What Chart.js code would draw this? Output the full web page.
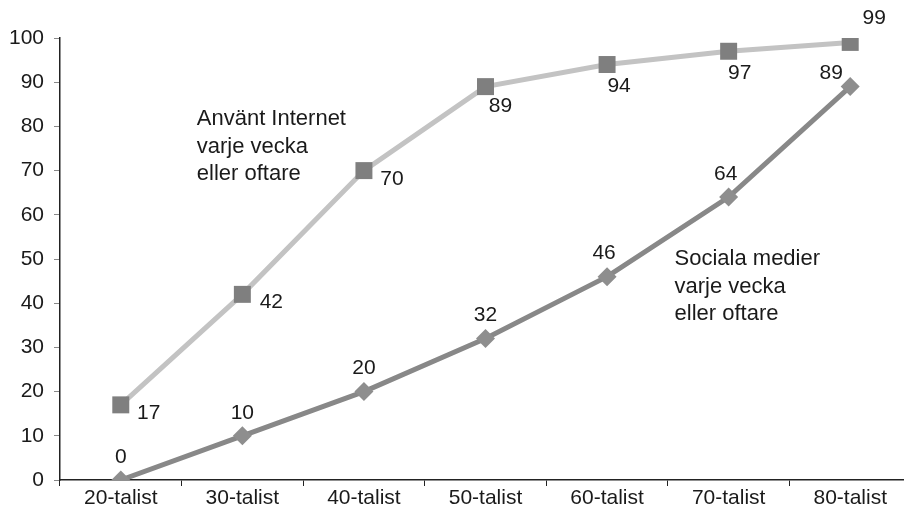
<!DOCTYPE html>
<html>
<head>
<meta charset="utf-8">
<script src="https://cdn.jsdelivr.net/npm/chart.js@4/dist/chart.umd.min.js"></script>
<style>
  html, body { margin: 0; padding: 0; background: #fff; overflow: hidden; }
  #wrap { width: 904px; height: 513px; overflow: hidden; position: relative; }
  canvas { display: block; }
</style>
</head>
<body>
<div id="wrap">
<canvas id="chart" width="914" height="513" style="width:914px;height:513px"></canvas>
</div>
<script>
const categories = ['20-talist', '30-talist', '40-talist', '50-talist', '60-talist', '70-talist', '80-talist'];
const internetValues = [17, 42, 70, 89, 94, 97, 99];
const socialValues = [0, 10, 20, 32, 46, 64, 89];
const yTicks = [0, 10, 20, 30, 40, 50, 60, 70, 80, 90, 100];

const internetNote = ['Använt Internet', 'varje vecka', 'eller oftare'];
const socialNote = ['Sociala medier', 'varje vecka', 'eller oftare'];

const FONT = '"Liberation Sans", Arial, Helvetica, sans-serif';
const TEXT = '#1a1a1a';

// label placement per point (pixel offsets from the marker)
const internetLabelOffsets = [[28, 8], [29, 8], [28, 9], [15, 20], [12, 22], [11, 22], [24, -24]];
const socialLabelOffsets = [[0, -23], [0, -23], [0, -23], [0, -23], [-3, -23], [-3, -23], [-19, -13]];

const labelsPlugin = {
  id: 'pointLabels',
  afterDatasetsDraw(chart) {
    const ctx = chart.ctx;
    const x = chart.scales.x;
    const y = chart.scales.y;
    ctx.save();
    ctx.font = '21px ' + FONT;
    ctx.fillStyle = TEXT;
    ctx.textAlign = 'center';
    ctx.textBaseline = 'middle';
    const sets = [[0, internetLabelOffsets], [1, socialLabelOffsets]];
    sets.forEach(([di, offs]) => {
      chart.getDatasetMeta(di).data.forEach((pt, i) => {
        const v = chart.data.datasets[di].data[i];
        ctx.fillText(String(v), pt.x + offs[i][0], pt.y + offs[i][1]);
      });
    });

    // text notes
    ctx.font = '22px ' + FONT;
    ctx.textAlign = 'left';
    ctx.textBaseline = 'alphabetic';
    const drawNote = (lines, xv, yv) => {
      const px = x.getPixelForValue(xv);
      const py = y.getPixelForValue(yv);
      lines.forEach((l, i) => ctx.fillText(l, px, py + i * 27.5));
    };
    drawNote(internetNote, 0.625, 80.3);
    drawNote(socialNote, 4.555, 48.6);
    ctx.restore();
  }
};

new Chart(document.getElementById('chart'), {
  type: 'line',
  data: {
    labels: categories,
    datasets: [{
      label: 'Internet',
      data: internetValues,
      borderColor: '#c3c3c3',
      borderWidth: 5,
      pointStyle: 'rect',
      pointRadius: 12,
      pointBackgroundColor: '#7f7f7f',
      pointBorderColor: '#7f7f7f',
      pointBorderWidth: 0,
      tension: 0
    }, {
      label: 'Sociala medier',
      data: socialValues,
      borderColor: '#888888',
      borderWidth: 5,
      pointStyle: 'rectRot',
      pointRadius: 9.5,
      pointBackgroundColor: '#8e8e8e',
      pointBorderColor: '#8e8e8e',
      pointBorderWidth: 0,
      tension: 0
    }]
  },
  options: {
    responsive: false,
    animation: false,
    devicePixelRatio: 1,
    layout: {
      autoPadding: false,
      padding: { left: 0, right: 3, top: 38, bottom: 0 }
    },
    plugins: {
      legend: { display: false },
      tooltip: { enabled: false }
    },
    scales: {
      x: {
        offset: true,
        afterFit(axis) {
          axis.height = 33;
          axis.paddingLeft = 0;
          axis.paddingRight = 0;
        },
        grid: {
          display: true,
          drawOnChartArea: false,
          tickLength: 6,
          color: '#222',
          offset: true
        },
        border: { color: '#222', width: 1.5 },
        ticks: {
          color: TEXT,
          font: { family: FONT, size: 21 },
          padding: 0,
          maxRotation: 0,
          autoSkip: false
        }
      },
      y: {
        min: 0,
        max: 100,
        afterFit(axis) { axis.width = 60; },
        afterBuildTicks(axis) {
          axis.ticks = yTicks.map(v => ({ value: v }));
        },
        grid: {
          display: true,
          drawOnChartArea: false,
          tickLength: 6,
          color: '#888'
        },
        border: { color: '#222', width: 1.5 },
        ticks: {
          color: TEXT,
          font: { family: FONT, size: 21 },
          padding: 10
        }
      }
    }
  },
  plugins: [labelsPlugin]
});
</script>
</body>
</html>
